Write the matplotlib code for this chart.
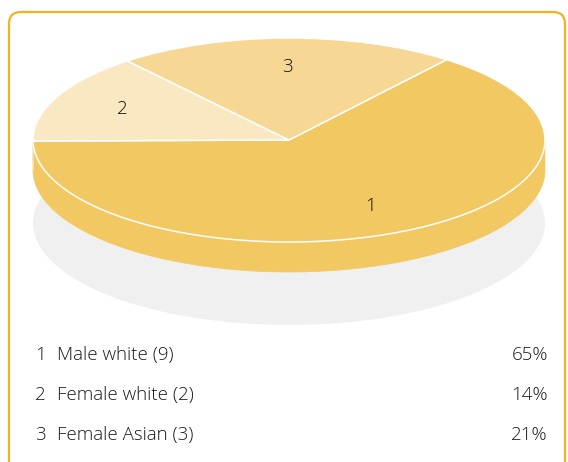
import numpy as np
import matplotlib
matplotlib.use("Agg")
import matplotlib.pyplot as plt
from matplotlib.patches import Wedge, Ellipse, Polygon, FancyBboxPatch
from matplotlib.transforms import Affine2D

# ---- data ----
slice_ids = ["1", "2", "3"]
categories = ["Male white (9)", "Female white (2)", "Female Asian (3)"]
counts = [9, 2, 3]
percent_labels = ["65%", "14%", "21%"]

# ---- style ----
colors = ["#F2C862", "#FAE8C3", "#F6D794"]
W, H = 568, 462
cx, cy = 289, 140          # centre of top ellipse (pixels)
rx, ry = 256, 102          # radii of the top ellipse
depth = 30                 # thickness of the pie
shadow_dy = 83             # shadow offset
start_angle = 52           # degrees, slices run clockwise from here
FONT = ['Open Sans', 'DejaVu Sans']

plt.rcParams['font.family'] = FONT

fig = plt.figure(figsize=(W / 100, H / 100), dpi=100)
ax = fig.add_axes([0, 0, 1, 1])
ax.set_xlim(0, W)
ax.set_ylim(H, 0)
ax.axis("off")

# border box (rounded)
box = FancyBboxPatch((9, 12), 556, 480, boxstyle="round,pad=0,rounding_size=12",
                     facecolor="none", edgecolor="#F0B41C", linewidth=1.6, zorder=0)
ax.add_patch(box)

# shadow
ax.add_patch(Ellipse((cx, cy + shadow_dy), 2 * rx, 2 * ry, facecolor="#F0F0F0",
                     edgecolor="none", zorder=1))

# slice angles from data (clockwise from start_angle)
vals = np.array(counts, dtype=float)
fracs = vals / vals.sum()
ends = start_angle - 360 * np.cumsum(fracs)
starts = np.concatenate([[start_angle], ends[:-1]])

def ell(theta_deg, dy=0.0):
    t = np.radians(theta_deg)
    return np.column_stack([cx + rx * np.cos(t), cy - ry * np.sin(t) + dy])

# side walls: front half (180..360 degrees)
for a_start, a_end, col in zip(starts, ends, colors):
    lo, hi = min(a_start, a_end), max(a_start, a_end)
    for k in range(-1, 2):
        f_lo, f_hi = 180 + 360 * k, 360 + 360 * k
        a, b = max(lo, f_lo), min(hi, f_hi)
        if b > a:
            th = np.linspace(a, b, 200)
            top = ell(th)
            bot = ell(th[::-1], depth)
            ax.add_patch(Polygon(np.vstack([top, bot]), closed=True, facecolor=col,
                                 edgecolor=col, linewidth=0.5, zorder=2))

# top face wedges in unit circle, scaled to ellipse
tr = Affine2D().scale(rx, -ry).translate(cx, cy) + ax.transData
for a_start, a_end, col in zip(starts, ends, colors):
    w = Wedge((0, 0), 1.0, a_end, a_start, facecolor=col, edgecolor="white",
              linewidth=1.1, transform=tr, zorder=3)
    ax.add_patch(w)

# slice number labels
for sid, a_start, a_end in zip(slice_ids, starts, ends):
    mid = np.radians((a_start + a_end) / 2)
    r = 0.72
    ax.text(cx + r * rx * np.cos(mid), cy - r * ry * np.sin(mid), sid,
            ha="center", va="center", fontsize=13.5, fontweight="light",
            color="#111111", zorder=4)

# legend rows
row_y = [355, 395, 435]
for sid, cat, pct, y in zip(slice_ids, categories, percent_labels, row_y):
    ax.text(35, y, sid, ha="left", va="center", fontsize=13.5, fontweight="light", color="#1a1a1a")
    ax.text(57, y, cat, ha="left", va="center", fontsize=13.5, fontweight="light", color="#1a1a1a")
    ax.text(548, y, pct, ha="right", va="center", fontsize=13.5, fontweight="light", color="#1a1a1a")

fig.savefig("out.png", dpi=100)
